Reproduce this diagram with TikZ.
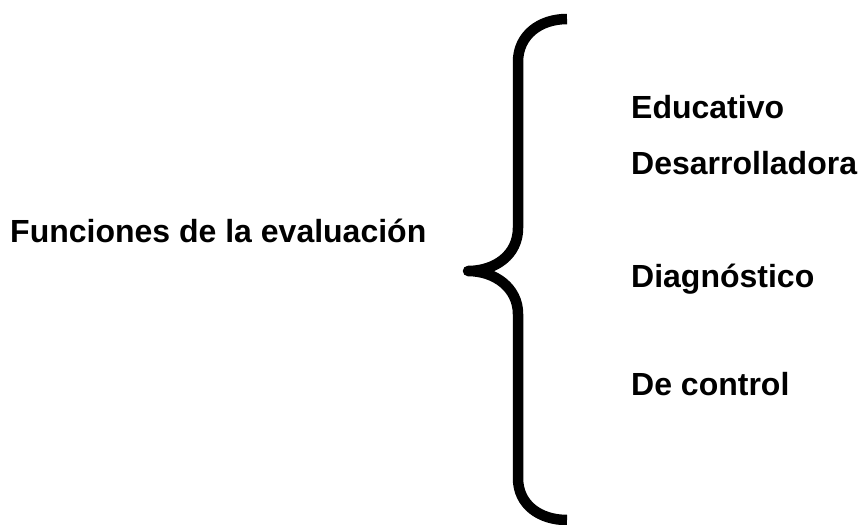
\documentclass[tikz,border=0pt]{standalone}
\usepackage{fontspec}
\setmainfont{Liberation Sans}
\begin{document}
\begin{tikzpicture}[x=1pt,y=-1pt,
  lbl/.style={anchor=base west,inner sep=0pt,font=\fontsize{32}{38}\selectfont\bfseries},
  bracestyle/.style={line width=10.5pt,line join=round}]
\useasboundingbox (0,0) rectangle (860,525);
\node[lbl] (title) at (10,242) {Funciones de la evaluación};
\node[lbl] (e1) at (631,118) {Educativo};
\node[lbl] (e2) at (631,174) {Desarrolladora};
\node[lbl] (e3) at (631,287) {Diagnóstico};
\node[lbl] (e4) at (631,395) {De control};
\coordinate (top) at (567,19);
\coordinate (tip) at (468,271);
\coordinate (bot) at (567,520);
\draw[bracestyle] (top) .. controls (540,19) and (518,35) .. (518,62)
  -- (518,228) .. controls (518,255) and (495,271) .. (tip)
  .. controls (495,271) and (518,288) .. (518,314)
  -- (518,478) .. controls (518,505) and (540,520) .. (bot);
\end{tikzpicture}
\end{document}
